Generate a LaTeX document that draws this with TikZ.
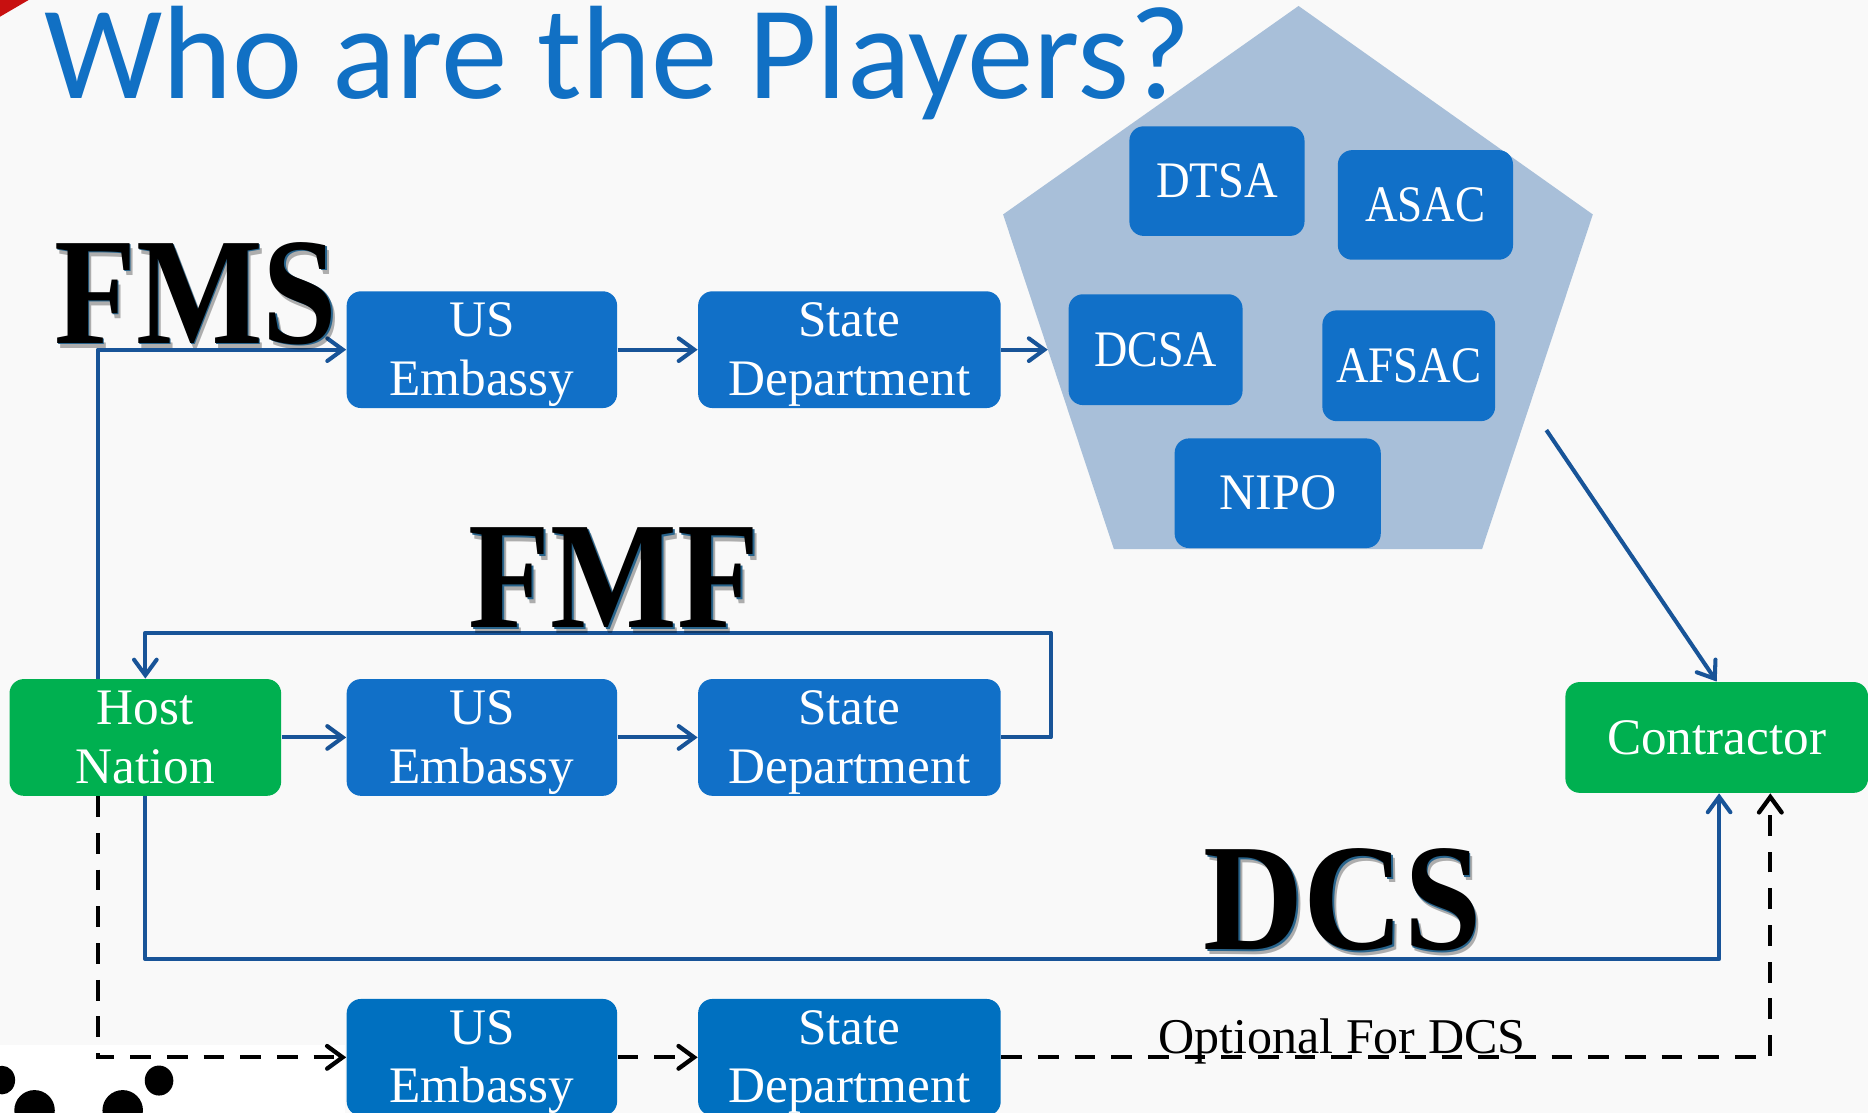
\documentclass[tikz,border=0pt]{standalone}
\usepackage{fontspec}
\setmainfont{Liberation Serif}
\newfontfamily\titlefont{Carlito}
\usetikzlibrary{arrows.meta}

\definecolor{bgpaper}{RGB}{249,249,249}
\definecolor{titleblue}{RGB}{17,112,196}
\definecolor{boxblue}{RGB}{17,112,200}
\definecolor{boxblueb}{RGB}{0,112,192}
\definecolor{boxgreen}{RGB}{0,176,80}
\definecolor{pentafill}{RGB}{168,191,217}
\definecolor{linkblue}{RGB}{24,84,152}
\definecolor{edgeteal}{RGB}{40,100,140}
\definecolor{cornerred}{RGB}{200,16,16}

% two-line box label, set slightly below the box centre
\newcommand\twoline[1]{\raisebox{-2pt}[\height][\depth]{\begin{tabular}{@{}c@{}}#1\end{tabular}}}
% narrower capitals for the agency acronyms
\newcommand\acro[2][0.89]{\scalebox{#1}[1]{#2}}

\tikzset{
  box/.style={rounded corners=6pt, minimum height=46.5pt, inner sep=0pt,
              text=white, font=\fontsize{21.5}{24.5}\selectfont},
  bluebox/.style={box, fill=boxblue},
  lowbox/.style={box, fill=boxblueb},
  greenbox/.style={box, fill=boxgreen},
  narrow/.style={minimum width=113.5pt},
  wide/.style={minimum width=127pt},
  link/.style={draw=linkblue, line width=1.7pt, line join=round,
               -{Straight Barb[length=6.5pt,width=9.5pt,line cap=round]}},
  optlink/.style={draw=black, line width=1.8pt, dash pattern=on 8.7pt off 6.7pt,
               -{Straight Barb[length=6.5pt,width=9.5pt,line cap=round]}},
  bigword/.style={inner sep=0pt, anchor=base west,
               font=\fontsize{64}{64}\bfseries\selectfont},
}

\begin{document}
\begin{tikzpicture}[x=0.5pt,y=-0.5pt]
  % page
  \fill[bgpaper] (0,0) rectangle (1568,934);
  \path[use as bounding box] (0,0) rectangle (1568,934);

  % corner decorations
  \fill[cornerred] (0,0) -- (24,0) -- (0,14) -- cycle;
  \fill[white] (0,877) rectangle (290,934);
  \fill[black] (1.7,906.6) ellipse [x radius=5.5pt, y radius=6pt];
  \fill[black] (29,932) ellipse [x radius=8.5pt, y radius=8.5pt];
  \fill[black] (103,932) ellipse [x radius=8.5pt, y radius=8.5pt];
  \fill[black] (133.5,907) ellipse [x radius=6pt, y radius=6.3pt];

  % agency pentagon
  \fill[pentafill] (1090,5) -- (1337,180) -- (1244,461) -- (935,461) -- (842,180) -- cycle;
  \coordinate (pentain) at (879.5,293.5);
  \coordinate (pentaout) at (1298,361);

  % agencies
  \node[bluebox, minimum width=73.5pt, minimum height=46pt] (dtsa)  at (1021.5,152) {\acro[0.91]{DTSA}};
  \node[bluebox, minimum width=73.5pt, minimum height=46pt] (asac)  at (1196.5,172) {\acro[0.88]{ASAC}};
  \node[bluebox, minimum width=73pt]                        (dcsa)  at (970,293.5)  {\acro[0.9]{DCSA}};
  \node[bluebox, minimum width=72.5pt]                      (afsac) at (1182.5,307) {\acro[0.88]{AFSAC}};
  \node[bluebox, minimum width=86.5pt, minimum height=46pt] (nipo)  at (1072.5,414) {\acro[0.98]{NIPO}};

  % FMS row
  \node[bluebox, narrow] (e1) at (404.5,293.5) {\twoline{US\\Embassy}};
  \node[bluebox, wide]   (s1) at (713,293.5)   {\twoline{State\\Department}};

  % FMF row
  \node[greenbox, minimum width=114pt] (hn) at (122,619) {\twoline{Host\\Nation}};
  \node[bluebox, narrow] (e2) at (404.5,619) {\twoline{US\\Embassy}};
  \node[bluebox, wide]   (s2) at (713,619)   {\twoline{State\\Department}};
  \node[greenbox, wide]  (ct) at (1441,619)  {Contractor};

  % optional row
  \node[lowbox, narrow] (e3) at (404.5,887.5) {\twoline{US\\Embassy}};
  \node[lowbox, wide]   (s3) at (713,887.5)   {\twoline{State\\Department}};

  \node[inner sep=0pt, anchor=base west, font=\fontsize{21}{24}\selectfont] (opt)
       at (972,884) {Optional For DCS};

  % routing points
  \coordinate (loopr) at (882,531);
  \coordinate (dcsrow) at (0,805);

  % FMS
  \draw[link] ([xshift=-20pt]hn.north) |- (e1.west);
  \draw[link] (e1.east) -- (s1.west);
  \draw[link] (s1.east) -- (pentain);
  \draw[link] (pentaout) -- (ct.north);

  % FMF
  \draw[link] (hn.east) -- (e2.west);
  \draw[link] (e2.east) -- (s2.west);
  \draw[link] (s2.east) -| (loopr) -| (hn.north);

  % DCS
  \draw[link] (hn.south) -- (hn.south |- dcsrow) -| ([xshift=1pt]ct.south);

  % optional path
  \draw[optlink] ([xshift=-20pt]hn.south) |- (e3.west);
  \draw[optlink] (e3.east) -- (s3.west);
  \draw[optlink] (s3.east) -| ([xshift=22.5pt]ct.south);

  % programme labels: soft shadow, bevel edge, black face
  \foreach \nm/\word/\px/\py/\sc in {fms/FMS/45/288/0.88, fmf/FMF/393/527/0.88, dcs/DCS/1010/797/0.91}{
    \node[bigword, text=black, opacity=0.3] (\nm shadow) at ([xshift=1.6pt,yshift=-2.2pt]\px,\py) {\scalebox{\sc}[1]{\word}};
    \node[bigword, text=edgeteal] (\nm edge) at ([xshift=0.7pt,yshift=-0.7pt]\px,\py) {\scalebox{\sc}[1]{\word}};
    \node[bigword, text=black] (\nm) at (\px,\py) {\scalebox{\sc}[1]{\word}};
  }

  % title
  \node[anchor=base west, inner sep=0pt, text=titleblue,
        font=\titlefont\fontsize{55.8}{60}\selectfont] (title) at (37,82.5) {Who are the Players?};
\end{tikzpicture}
\end{document}
